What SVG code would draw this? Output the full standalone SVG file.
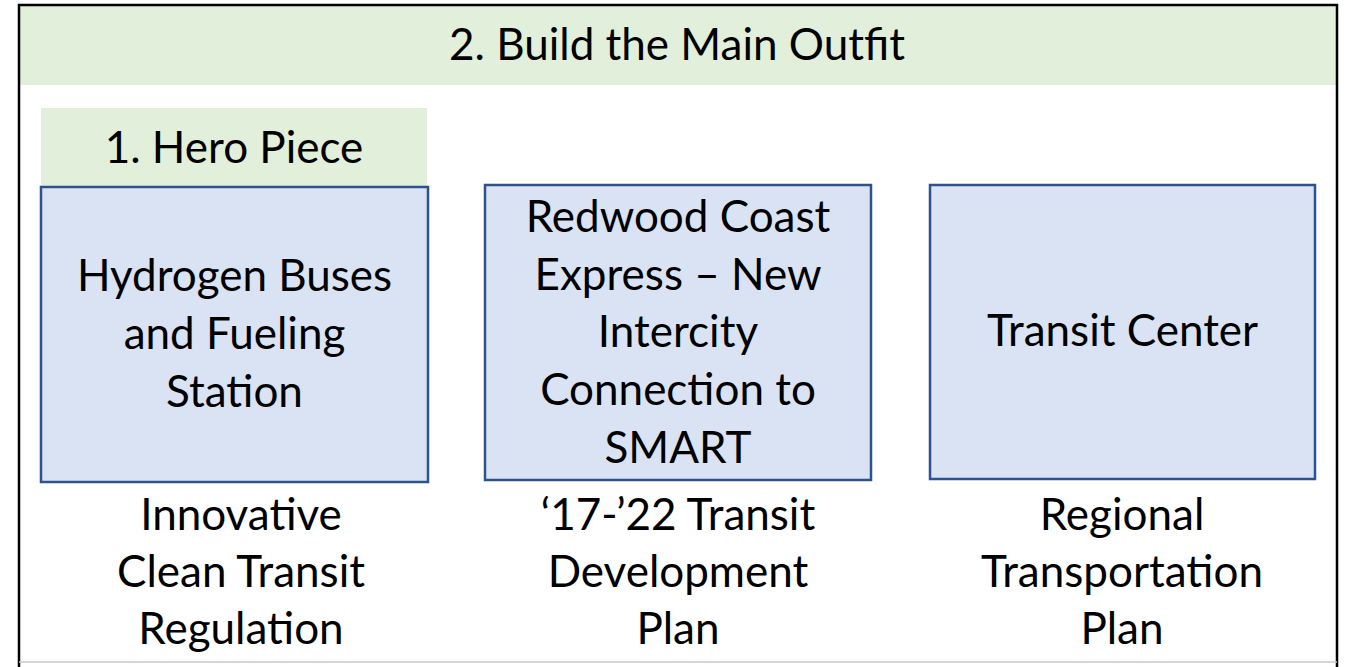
<svg xmlns="http://www.w3.org/2000/svg" width="1345" height="667" viewBox="0 0 1345 667">
<style>
.t{font-family:Lato,"Liberation Sans",sans-serif;font-size:44px;fill:#000;text-anchor:middle}
.g{fill:#E2EFDA}
.b{fill:#DAE3F3;stroke:#2F528F;stroke-width:2.5}
</style>
<rect x="0" y="0" width="1345" height="667" fill="#fff"/>
<g id="frame">
<rect class="g" x="20" y="6" width="1316" height="79"/>
<path d="M19,667 V5 H1337 V667" fill="none" stroke="#000" stroke-width="2.5"/>
<line x1="19" y1="662" x2="1337" y2="662" stroke="#c8c8c8" stroke-width="1.5"/>
</g>
<g id="title"><text class="t" x="677" y="60">2. Build the Main Outfit</text></g>
<g id="hero">
<rect class="g" x="41" y="108" width="386" height="78"/>
<text class="t" x="234" y="163">1. Hero Piece</text>
</g>
<g id="node1">
<rect class="b" x="41" y="187" width="387" height="295"/>
<text class="t" x="234.5" y="291">Hydrogen Buses</text>
<text class="t" x="234.5" y="349">and Fueling</text>
<text class="t" x="234.5" y="407">Station</text>
</g>
<g id="node2">
<rect class="b" x="485" y="185" width="386" height="295"/>
<text class="t" x="678" y="232">Redwood Coast</text>
<text class="t" x="678" y="290">Express – New</text>
<text class="t" x="678" y="347">Intercity</text>
<text class="t" x="678" y="405">Connection to</text>
<text class="t" x="678" y="463">SMART</text>
</g>
<g id="node3">
<rect class="b" x="930" y="185" width="385" height="294"/>
<text class="t" x="1122.5" y="346">Transit Center</text>
</g>
<g id="label1">
<text class="t" x="241" y="530">Innovative</text>
<text class="t" x="241" y="587">Clean Transit</text>
<text class="t" x="241" y="644">Regulation</text>
</g>
<g id="label2">
<text class="t" x="678" y="530">‘17-’22 Transit</text>
<text class="t" x="678" y="587">Development</text>
<text class="t" x="678" y="644">Plan</text>
</g>
<g id="label3">
<text class="t" x="1122" y="530">Regional</text>
<text class="t" x="1122" y="587">Transportation</text>
<text class="t" x="1122" y="644">Plan</text>
</g>
<g id="connectors"></g>
</svg>
